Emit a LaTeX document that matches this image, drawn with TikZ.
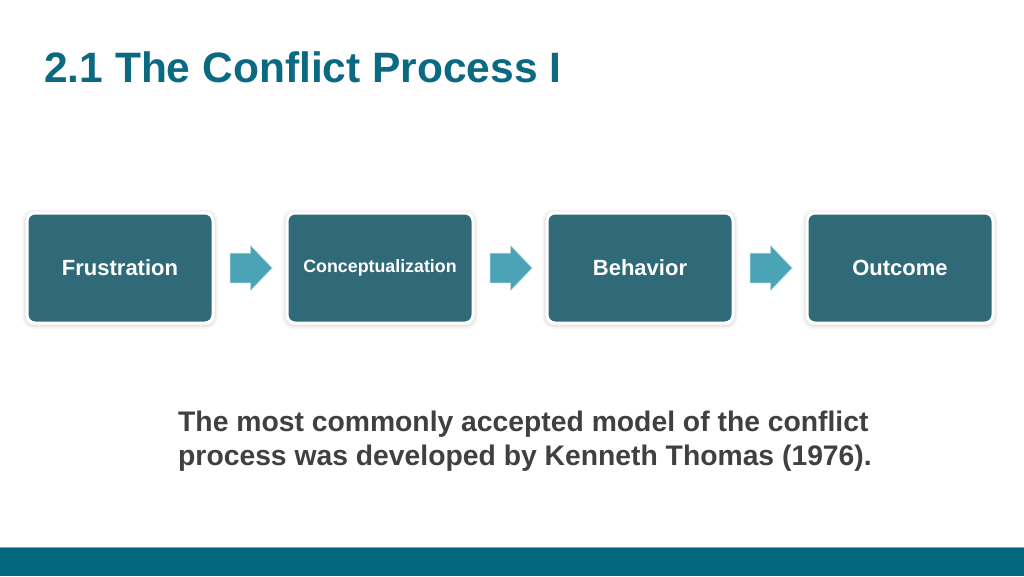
\documentclass[tikz,border=0pt]{standalone}
\usepackage{fontspec}
\setmainfont{Liberation Sans}
\usetikzlibrary{shapes.arrows,calc}
\definecolor{titleteal}{HTML}{0B6A82}
\definecolor{boxfill}{HTML}{306A78}
\definecolor{arrowfill}{HTML}{4BA3B6}
\definecolor{bodygray}{HTML}{404040}
\definecolor{barteal}{HTML}{03667F}
\definecolor{barline}{HTML}{6FA9B8}
\tikzset{
  stepbox/.style={rectangle, rounded corners=8pt, fill=boxfill, draw=white, line width=3pt,
    minimum width=186pt, minimum height=110pt, inner sep=0pt, text=white, font=\bfseries\fontsize{22}{26}\selectfont},
  glow/.style={rectangle, rounded corners=10pt, fill=black, fill opacity=0.05, draw=none,
    minimum width=192pt, minimum height=116pt},
  flowarrow/.style={single arrow, fill=arrowfill, draw=white!55!arrowfill, line width=0.6pt,
    minimum height=42pt, inner xsep=0pt, inner ysep=14.5pt, single arrow head extend=7.5pt,
    single arrow tip angle=92, anchor=center, xshift=-6pt},
  bodytext/.style={anchor=base west, inner sep=0pt, text=bodygray, font=\bfseries\fontsize{28.3}{34}\selectfont}
}
\begin{document}
\begin{tikzpicture}[x=1pt,y=-1pt]
\useasboundingbox (0,0) rectangle (1024,576);
\fill[white] (0,0) rectangle (1024,576);
% title
\node[anchor=base west, inner sep=0pt, text=titleteal, font=\bfseries\fontsize{42.5}{50}\selectfont] (title) at (44,82) {2.1 The Conflict Process I};
% glows
\foreach \cx in {120,380,640,900}{
  \node[glow] at (\cx,269) {};
  \node[glow, minimum width=196pt, minimum height=120pt, rounded corners=12pt, fill opacity=0.03] at (\cx,269) {};
}
% boxes
\node[stepbox] (b1) at (120,268) {Frustration};
\node[stepbox, font=\bfseries\fontsize{17.8}{21}\selectfont] (b2) at (380,268) {Conceptualization};
\node[stepbox] (b3) at (640,268) {Behavior};
\node[stepbox] (b4) at (900,268) {Outcome};
% arrows
\node[flowarrow] (a1) at ($(b1.east)!0.5!(b2.west)$) {};
\node[flowarrow] (a2) at ($(b2.east)!0.5!(b3.west)$) {};
\node[flowarrow] (a3) at ($(b3.east)!0.5!(b4.west)$) {};
% body text
\node[bodytext] (l1) at (178,431) {The most commonly accepted model of the conflict};
\node[bodytext] (l2) at (178,465) {process was developed by Kenneth Thomas (1976).};
% bottom bar
\fill[barteal] (0,547) rectangle (1024,576);
\fill[barline] (0,546.5) rectangle (1024,547.5);
\end{tikzpicture}
\end{document}
